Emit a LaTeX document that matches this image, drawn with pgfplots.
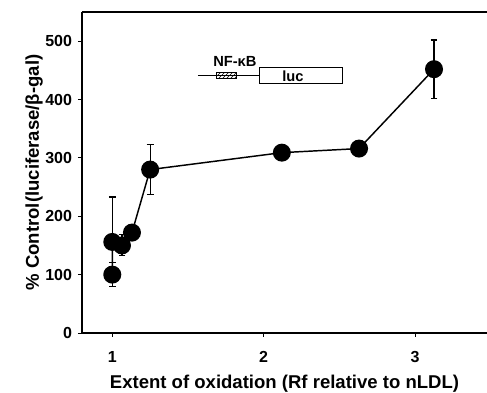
\documentclass[border=0pt]{standalone}
\usepackage{pgfplots}
\pgfplotsset{compat=1.18}
\usepackage{fontspec}
\setmainfont{Liberation Sans}
\usetikzlibrary{patterns}
\begin{document}
\begin{tikzpicture}
\begin{axis}[
  scale only axis,
  width=303.75pt, height=240.75pt,
  xmin=0.8, xmax=3.475, ymin=0, ymax=550,
  axis x line*=bottom, axis y line*=left,
  axis line style={line width=1.2pt},
  xtick={1,2,3}, ytick={0,100,200,300,400,500},
  tick align=outside, major tick length=3pt,
  tick style={black, line width=0.6pt},
  tick label style={font=\bfseries\fontsize{12}{14}\selectfont},
  /pgf/number format/assume math mode=true,
  xticklabel style={yshift=-7pt},
  yticklabel style={xshift=-1pt},
  xlabel={Extent of oxidation (Rf relative to nLDL)},
  ylabel={\% Control(luciferase/β-gal)},
  label style={font=\bfseries\fontsize{13.9}{16}\selectfont},
  xlabel style={yshift=-3pt},
  ylabel style={yshift=-5pt},
  clip=false,
]
\addplot[black, line width=1.1pt, mark=*, mark size=6.2pt,
  mark options={fill=black},
  error bars/.cd, y dir=both, y explicit,
  error bar style={line width=0.8pt},
  error mark options={rotate=90, mark size=2.6pt, line width=0.8pt}]
  table[x=x, y=y, y error=e] {
x y e
1.0 100 21
1.0 156 77
1.064 150 18
1.13 172 10
1.25 280 43
2.12 309 5
2.63 316 5
3.125 452 50
};
% inset construct
\draw[line width=0.7pt] (axis cs:1.566,441.8) -- (axis cs:1.969,441.8);
\draw[line width=0.6pt, fill=white, pattern=north east lines] (axis cs:1.691,436.6) rectangle (axis cs:1.823,447);
\draw[line width=0.7pt, fill=white] (axis cs:1.969,428) rectangle (axis cs:2.523,455);
\node[font=\bfseries\fontsize{11}{12}\selectfont] at (axis cs:1.81,465) {NF-κB};
\node[font=\bfseries\fontsize{11}{12}\selectfont] at (axis cs:2.193,440) {luc};
\draw[line width=1.2pt] (rel axis cs:0,1) -- (rel axis cs:1,1);
\coordinate (ll) at (rel axis cs:0,0);
\coordinate (ur) at (rel axis cs:1,1);
\end{axis}
\pgfresetboundingbox
\path[use as bounding box] ([shift={(-61.5pt,-45pt)}]ll) rectangle ([shift={(0pt,9pt)}]ur);
\end{tikzpicture}
\end{document}
